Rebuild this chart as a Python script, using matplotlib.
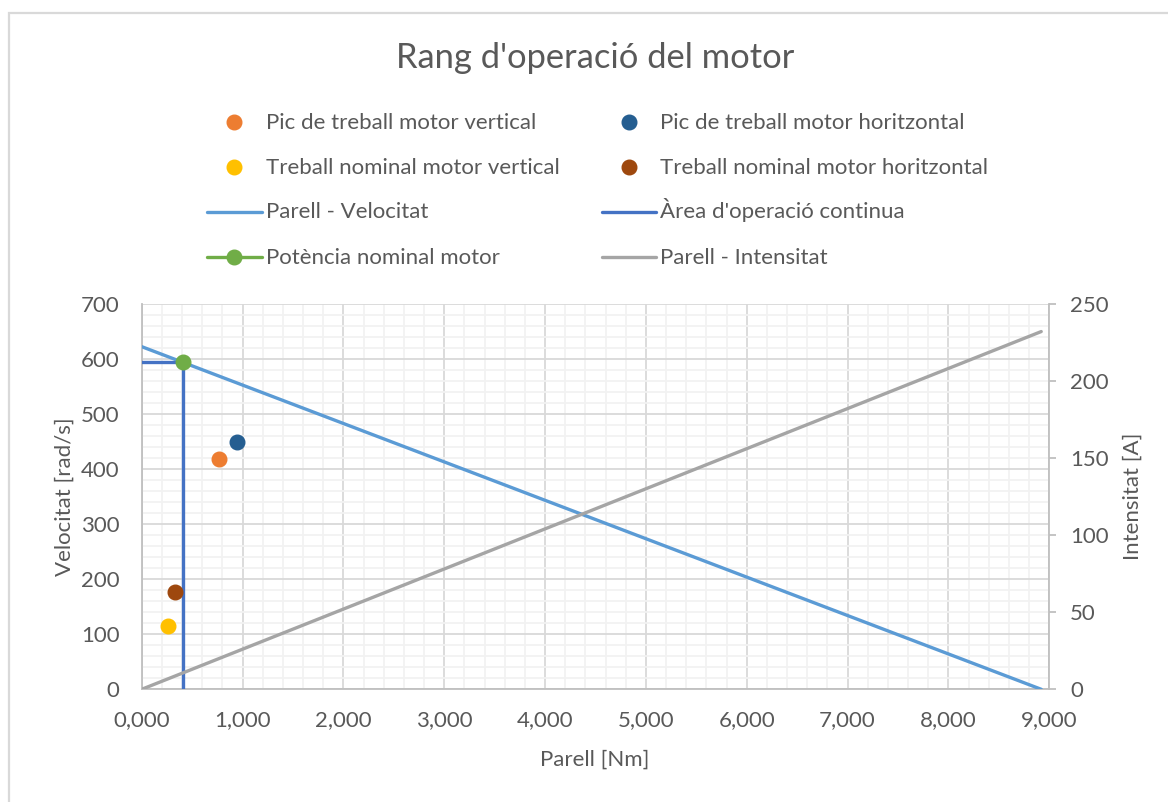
import matplotlib
matplotlib.use("Agg")
import matplotlib.pyplot as plt
from matplotlib.lines import Line2D
from matplotlib.patches import Rectangle
from matplotlib.ticker import MultipleLocator, FuncFormatter

plt.rcParams['font.family'] = ['Lato', 'DejaVu Sans']
TXT = '#595959'

# Operating points (torque [Nm], speed [rad/s])
pic_vertical = ([0.77], [419])
pic_horitzontal = ([0.945], [450])
nominal_vertical = ([0.258], [115])
nominal_horitzontal = ([0.327], [177])

# Torque-speed characteristic
pv_torque = [0.0, 8.92]
pv_speed = [623, 0]

# Continuous operation boundary
area_torque = [0.0, 0.407, 0.407]
area_speed = [595, 595, 0]

# Rated power point
pot_torque = [0.407]
pot_speed = [595]

# Torque-current characteristic
pi_torque = [0.0, 8.92]
pi_current = [0, 232.3]

W, H = 1168, 802
fig = plt.figure(figsize=(W / 100, H / 100), dpi=100)
ax = fig.add_axes([141.7 / W, (H - 689.3) / H, 907.6 / W, 385 / H])
ax2 = ax.twinx()

c_or, c_db, c_ye, c_br = '#ED7D31', '#255E91', '#FFC000', '#9E480E'
c_pv, c_area, c_pot, c_pi = '#5B9BD5', '#4472C4', '#70AD47', '#A5A5A5'
ms = 10.5
lw = 2.4

h_pv, = ax.plot(pv_torque, pv_speed, color=c_pv, lw=lw, solid_capstyle='round', zorder=3)
h_area, = ax.plot(area_torque, area_speed, color=c_area, lw=lw, zorder=3)
h_pot, = ax.plot(pot_torque, pot_speed, color=c_pot, lw=lw, marker='o', ms=ms, zorder=5)
h_or, = ax.plot(*pic_vertical, ls='none', marker='o', ms=ms, color=c_or, zorder=5)
h_db, = ax.plot(*pic_horitzontal, ls='none', marker='o', ms=ms, color=c_db, zorder=5)
h_ye, = ax.plot(*nominal_vertical, ls='none', marker='o', ms=ms, color=c_ye, zorder=5)
h_br, = ax.plot(*nominal_horitzontal, ls='none', marker='o', ms=ms, color=c_br, zorder=5)
h_pi, = ax2.plot(pi_torque, pi_current, color=c_pi, lw=lw, solid_capstyle='round', zorder=3)

ax.set_xlim(0, 9)
ax.set_ylim(0, 700)
ax2.set_ylim(0, 250)
ax.xaxis.set_major_locator(MultipleLocator(1))
ax.xaxis.set_minor_locator(MultipleLocator(0.2))
ax.yaxis.set_major_locator(MultipleLocator(100))
ax.yaxis.set_minor_locator(MultipleLocator(20))
ax2.yaxis.set_major_locator(MultipleLocator(50))
ax.xaxis.set_major_formatter(FuncFormatter(lambda v, p: f"{v:.3f}".replace('.', ',')))

ax.set_axisbelow(True)
ax.grid(which='major', color='#D9D9D9', lw=1.3)
ax.grid(which='minor', color='#F2F2F2', lw=1.3)

for s in ['top', 'right']:
    ax.spines[s].set_visible(False)
for s in ['left', 'bottom']:
    ax.spines[s].set_color('#BFBFBF')
    ax.spines[s].set_linewidth(1.3)
for s in ['top', 'left', 'bottom']:
    ax2.spines[s].set_visible(False)
ax2.spines['right'].set_color('#BFBFBF')
ax2.spines['right'].set_linewidth(1.3)

FS = 16
ax.tick_params(axis='both', which='both', length=0, colors=TXT, labelsize=FS)
ax.tick_params(axis='x', pad=15)
ax.tick_params(axis='y', pad=16)
ax2.tick_params(axis='y', length=5, width=1.3, color='#BFBFBF', labelcolor=TXT, labelsize=FS, pad=10)

ax.set_xlabel('Parell [Nm]', fontsize=FS, color=TXT)
ax.set_ylabel('Velocitat [rad/s]', fontsize=FS, color=TXT)
ax2.set_ylabel('Intensitat [A]', fontsize=FS, color=TXT)
ax.xaxis.set_label_coords((595 - 141.7) / 907.6, -(760 - 689.3) / 385)
ax.yaxis.set_label_coords((65 - 141.7) / 907.6, 0.5)
ax2.yaxis.set_label_coords((1133 - 141.7) / 907.6, 0.5)
ax.xaxis.label.set_va('center')
ax.yaxis.label.set_va('center')
ax2.yaxis.label.set_va('center')

fig.text(595 / W, 1 - 58 / H, "Rang d'operació del motor", fontsize=24.8,
         color=TXT, ha='center', va='center')

# Legend: two columns of four rows above the plot area
rows = [122.3, 166.7, 211.7, 256.7]
cols = [(207.3, 261.5, 266), (602.3, 656, 660)]
entries = [
    [(h_or, 'Pic de treball motor vertical', 'marker'),
     (h_ye, 'Treball nominal motor vertical', 'marker'),
     (h_pv, 'Parell - Velocitat', 'line'),
     (h_pot, 'Potència nominal motor', 'both')],
    [(h_db, 'Pic de treball motor horitzontal', 'marker'),
     (h_br, 'Treball nominal motor horitzontal', 'marker'),
     (h_area, "Àrea d'operació continua", 'line'),
     (h_pi, 'Parell - Intensitat', 'line')],
]
for (x0, x1, xt), col in zip(cols, entries):
    for yr, (h, label, kind) in zip(rows, col):
        yf = 1 - yr / H
        if kind in ('line', 'both'):
            fig.add_artist(Line2D([x0 / W, x1 / W], [yf, yf], transform=fig.transFigure,
                                  color=h.get_color(), lw=lw, solid_capstyle='round'))
        if kind in ('marker', 'both'):
            fig.add_artist(Line2D([(x0 + x1) / 2 / W], [yf], transform=fig.transFigure,
                                  ls='none', marker='o', ms=ms, color=h.get_color()))
        fig.text(xt / W, 1 - (yr + 6.8) / H, label, fontsize=FS, color=TXT,
                 ha='left', va='baseline')

fig.patches.append(Rectangle((9 / W, -0.1), 1.2, 1 - 13 / H + 0.1,
                             transform=fig.transFigure, fill=False,
                             edgecolor='#D9D9D9', lw=1.6))

fig.savefig('out.png', dpi=100)
